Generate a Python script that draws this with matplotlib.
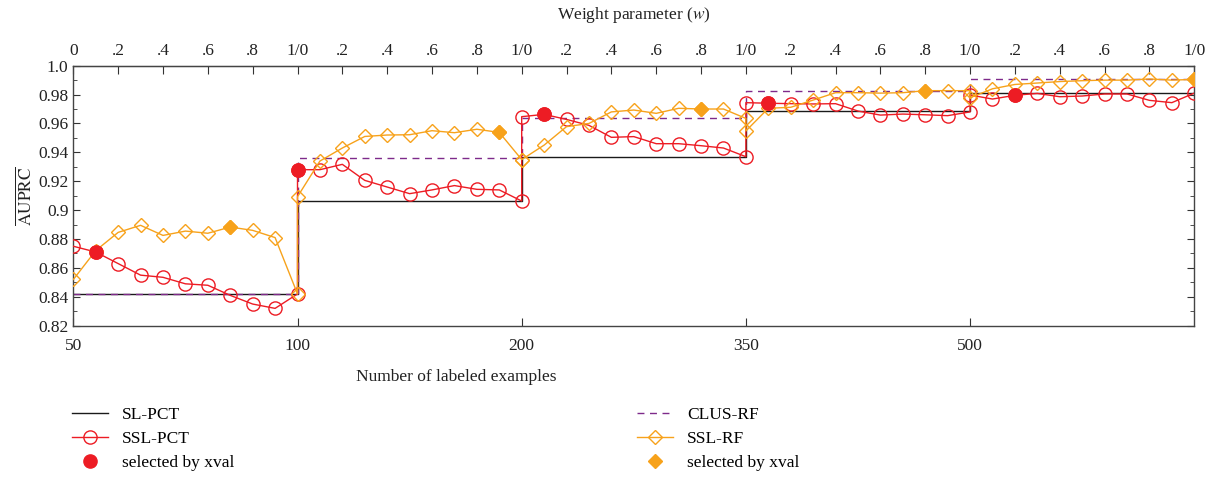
import numpy as np
import matplotlib
matplotlib.use("Agg")
import matplotlib.pyplot as plt
from matplotlib.lines import Line2D
from matplotlib.ticker import MultipleLocator

plt.rcParams['font.family'] = ['Liberation Serif', 'DejaVu Serif']
plt.rcParams['mathtext.fontset'] = 'stix'

# number of labeled examples (one segment each), w goes 0..1 inside a segment
sizes = ['50', '100', '200', '350', '500']
weights = [0.0, 0.1, 0.2, 0.3, 0.4, 0.5, 0.6, 0.7, 0.8, 0.9, 1.0]

sl_pct = [0.842, 0.906, 0.937, 0.9685, 0.981]
clus_rf = [0.842, 0.936, 0.9635, 0.9825, 0.9908]

ssl_pct_50 = [0.875, 0.871, 0.863, 0.855, 0.8535, 0.849, 0.848, 0.841, 0.835, 0.832, 0.842]
ssl_pct_100 = [0.928, 0.928, 0.9317, 0.9206, 0.916, 0.9114, 0.914, 0.917, 0.9144, 0.914, 0.9063]
ssl_pct_200 = [0.9647, 0.9663, 0.9628, 0.9587, 0.9504, 0.9509, 0.946, 0.946, 0.9446, 0.943, 0.937]
ssl_pct_350 = [0.9744, 0.974, 0.9737, 0.9735, 0.9737, 0.9686, 0.9658, 0.9665, 0.966, 0.9654, 0.968]
ssl_pct_500 = [0.9797, 0.9769, 0.9795, 0.9808, 0.9785, 0.979, 0.9804, 0.9804, 0.976, 0.9744, 0.981]

ssl_rf_50 = [0.852, 0.872, 0.8846, 0.8895, 0.8825, 0.8855, 0.884, 0.8883, 0.886, 0.881, 0.842]
ssl_rf_100 = [0.9093, 0.934, 0.943, 0.951, 0.952, 0.9522, 0.955, 0.9536, 0.956, 0.9538, 0.935]
ssl_rf_200 = [0.935, 0.945, 0.9578, 0.960, 0.968, 0.9693, 0.967, 0.9705, 0.970, 0.970, 0.9635]
ssl_rf_350 = [0.9548, 0.9705, 0.9712, 0.9762, 0.9813, 0.9813, 0.981, 0.9813, 0.9827, 0.9827, 0.9827]
ssl_rf_500 = [0.9778, 0.984, 0.987, 0.988, 0.989, 0.9896, 0.990, 0.990, 0.9908, 0.990, 0.9905]

# w picked by cross-validation in each segment
sel_pct_w = [0.1, 0.0, 0.1, 0.1, 0.2]
sel_rf_w = [0.7, 0.9, 0.8, 0.8, 1.0]

ssl_pct = [ssl_pct_50, ssl_pct_100, ssl_pct_200, ssl_pct_350, ssl_pct_500]
ssl_rf = [ssl_rf_50, ssl_rf_100, ssl_rf_200, ssl_rf_350, ssl_rf_500]

red = '#ED1C24'
orange = '#F7A21B'
purple = '#7E2A8A'
black = '#1a1a1a'

x_all = np.concatenate([i + np.array(weights) for i in range(len(sizes))])
pct_all = np.concatenate(ssl_pct)
rf_all = np.concatenate(ssl_rf)

# step lines for the supervised baselines
step_x = np.repeat(np.arange(len(sizes) + 1), 2)[1:-1]
sl_y = np.repeat(sl_pct, 2)
clus_y = np.repeat(clus_rf, 2)

sel_pct_x = [i + w for i, w in enumerate(sel_pct_w)]
sel_pct_y = [ssl_pct[i][weights.index(w)] for i, w in enumerate(sel_pct_w)]
sel_rf_x = [i + w for i, w in enumerate(sel_rf_w)]
sel_rf_y = [ssl_rf[i][weights.index(w)] for i, w in enumerate(sel_rf_w)]

fig = plt.figure(figsize=(12.18, 4.78), dpi=100)
ax = fig.add_axes([0.0602, 0.3186, 0.9203, 0.5440])

ax.plot(step_x, sl_y, color=black, lw=1.0, zorder=2)
ax.plot(step_x, clus_y, color=purple, lw=1.0, ls=(0, (5, 4)), zorder=2)
ax.plot(x_all, pct_all, color=red, lw=1.0, marker='o', ms=9.5, mfc='none', mec=red, mew=1.0, zorder=3)
ax.plot(x_all, rf_all, color=orange, lw=1.0, marker='D', ms=7, mfc='none', mec=orange, mew=1.0, zorder=4)
ax.plot(sel_pct_x, sel_pct_y, ls='none', marker='o', ms=9.5, color=red, zorder=5)
ax.plot(sel_rf_x, sel_rf_y, ls='none', marker='D', ms=7, color=orange, zorder=5)

ax.set_xlim(0, 5)
ax.set_ylim(0.82, 1.0)
ax.set_xticks(range(len(sizes)))
ax.set_xticklabels(sizes)
ax.set_yticks(np.arange(0.82, 1.001, 0.02))
ax.set_yticklabels(['0.82', '0.84', '0.86', '0.88', '0.9', '0.92', '0.94', '0.96', '0.98', '1.0'])
ax.yaxis.set_minor_locator(MultipleLocator(0.01))
ax.tick_params(axis='both', which='both', direction='in', labelsize=12.5, colors='#333333', labelcolor='#222222')
ax.tick_params(axis='y', which='both', right=True)
ax.tick_params(axis='y', which='major', length=5)
ax.tick_params(axis='y', which='minor', length=3)
ax.tick_params(axis='x', length=6, pad=9)
for s in ax.spines.values():
    s.set_color('#444444')
    s.set_linewidth(1.0)

top_ticks = np.round(np.arange(0, 5.001, 0.2), 1)
top_labels = []
for t in top_ticks:
    if t == 0:
        top_labels.append('0')
    elif abs(t - round(t)) < 1e-9:
        top_labels.append('1/0')
    else:
        top_labels.append('.' + str(int(round((t - int(t)) * 10))))
secax = ax.secondary_xaxis('top')
secax.set_xticks(top_ticks)
secax.set_xticklabels(top_labels)
secax.tick_params(direction='in', length=6, pad=5, labelsize=12.5, colors='#333333', labelcolor='#222222')
secax.set_xlabel('Weight parameter ($w$)', fontsize=12.5, color='#222222', labelpad=17)

ax.set_xlabel('Number of labeled examples', fontsize=12.5, color='#222222')
ax.xaxis.set_label_coords(0.3414, -0.165)
ax.set_ylabel(r'$\overline{\mathrm{AUPRC}}$', fontsize=12.5, color='#222222', labelpad=2)

h_left = [
    Line2D([], [], color=black, lw=1.0),
    Line2D([], [], color=red, lw=1.0, marker='o', ms=9.5, mfc='none', mec=red),
    Line2D([], [], ls='none', marker='o', ms=9.5, color=red),
]
h_right = [
    Line2D([], [], color=purple, lw=1.0, ls=(0, (5, 4))),
    Line2D([], [], color=orange, lw=1.0, marker='D', ms=7, mfc='none', mec=orange),
    Line2D([], [], ls='none', marker='D', ms=7, color=orange),
]
leg_kw = dict(loc='upper left', frameon=False, fontsize=12.5, handlelength=2.1,
              handletextpad=0.8, labelspacing=0.45, borderpad=0, borderaxespad=0)
leg1 = fig.legend(h_left, ['SL-PCT', 'SSL-PCT', 'selected by xval'],
                  bbox_to_anchor=(0.059, 0.1495), **leg_kw)
leg2 = fig.legend(h_right, ['CLUS-RF', 'SSL-RF', 'selected by xval'],
                  bbox_to_anchor=(0.523, 0.1495), **leg_kw)

fig.savefig('out.png', dpi=100)
